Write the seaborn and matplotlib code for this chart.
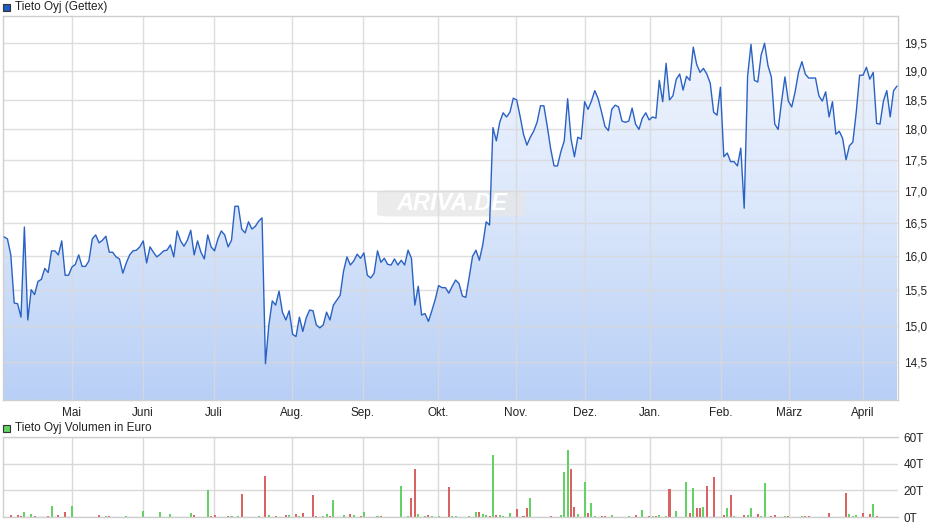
import numpy as np
import seaborn as sns
import matplotlib
matplotlib.use("Agg")
import matplotlib.pyplot as plt
from matplotlib.colors import LinearSegmentedColormap
from matplotlib.ticker import FixedLocator, FuncFormatter, NullLocator
from matplotlib.patches import Rectangle, FancyBboxPatch

# closing prices, one per trading day (EUR)
prices = [
    16.29, 16.26, 16.02, 15.32, 15.31, 15.12, 16.44, 15.08, 15.51, 15.44,
    15.63, 15.66, 15.82, 15.76, 16.08, 16.08, 16.02, 16.23, 15.72, 15.72,
    15.84, 15.88, 16.02, 15.85, 15.85, 15.93, 16.26, 16.32, 16.20, 16.24,
    16.30, 16.06, 16.06, 15.99, 15.96, 15.75, 15.90, 16.02, 16.08, 16.09,
    16.14, 16.23, 15.90, 16.14, 16.06, 15.99, 16.03, 16.08, 16.09, 16.17,
    15.99, 16.38, 16.23, 16.15, 16.24, 16.39, 16.02, 16.23, 16.06, 15.96,
    16.32, 16.14, 16.08, 16.26, 16.38, 16.32, 16.14, 16.24, 16.76, 16.76,
    16.41, 16.35, 16.52, 16.41, 16.45, 16.53, 16.58, 14.48, 15.01, 15.35,
    15.29, 15.49, 15.19, 15.08, 15.21, 14.88, 14.85, 15.12, 14.92, 15.11,
    15.22, 15.21, 15.01, 14.97, 15.01, 15.19, 15.08, 15.29, 15.36, 15.43,
    15.78, 15.99, 15.87, 15.93, 16.03, 15.97, 16.05, 15.72, 15.68, 15.75,
    16.08, 15.91, 15.97, 15.88, 15.87, 15.96, 15.87, 15.94, 15.87, 16.09,
    15.97, 15.29, 15.56, 15.15, 15.17, 15.06, 15.21, 15.37, 15.57, 15.54,
    15.54, 15.46, 15.56, 15.65, 15.60, 15.42, 15.40, 15.69, 16.00, 16.09,
    15.94, 16.17, 16.52, 16.47, 18.03, 17.81, 18.12, 18.28, 18.21, 18.29,
    18.53, 18.50, 18.22, 17.92, 17.74, 17.87, 17.97, 18.12, 18.40, 18.40,
    18.05, 17.68, 17.40, 17.40, 17.63, 17.81, 18.52, 17.84, 17.55, 17.87,
    17.84, 18.47, 18.34, 18.48, 18.66, 18.52, 18.29, 18.05, 17.98, 18.34,
    18.41, 18.38, 18.14, 18.12, 18.14, 18.36, 18.09, 18.00, 18.19, 18.28,
    18.16, 18.21, 18.19, 18.84, 18.47, 19.14, 18.50, 18.57, 18.86, 18.95,
    18.67, 18.91, 18.84, 19.43, 19.12, 18.98, 19.05, 18.95, 18.79, 18.29,
    18.24, 18.72, 17.55, 17.61, 17.47, 17.47, 17.40, 17.69, 16.73, 18.91,
    19.48, 18.84, 18.81, 19.29, 19.50, 19.10, 18.90, 18.09, 18.00, 18.47,
    18.90, 18.48, 18.38, 18.64, 18.98, 19.17, 18.95, 18.88, 18.88, 18.88,
    18.57, 18.48, 18.64, 18.21, 18.47, 17.92, 17.97, 17.85, 17.50, 17.73,
    17.79, 18.29, 18.93, 18.93, 19.07, 18.86, 18.98, 18.10, 18.09, 18.48,
    18.66, 18.21, 18.66, 18.74,
]
days = np.arange(len(prices))

# month starts (trading-day index) and labels
month_pos = [20.0, 40.9, 61.9, 84.8, 105.7, 127.8, 150.8, 171.1, 190.3, 211.2, 231.2, 253.0]
month_labels = ["Mai", "Juni", "Juli", "Aug.", "Sep.", "Okt.", "Nov.", "Dez.",
                "Jan.", "Feb.", "März", "April"]
price_ticks = [14.5, 15.0, 15.5, 16.0, 16.5, 17.0, 17.5, 18.0, 18.5, 19.0, 19.5]

# daily turnover in thousand EUR, u = up day (green), d = down day (red)
vol_day = [2, 4, 5, 6, 8, 9, 13, 14, 16, 18, 20, 28, 30, 31, 36, 41, 46, 49, 55, 56,
           60, 61, 62, 66, 67, 69, 70, 75, 77, 78, 80, 83, 84, 86, 87, 88, 91, 92, 94, 95,
           96, 97, 100, 102, 103, 105, 106, 110, 111, 117, 119, 120, 121, 122, 124, 125, 126, 128, 131, 132,
           133, 137, 139, 140, 141, 142, 143, 144, 145, 146, 147, 149, 151, 153, 154, 155, 161, 164, 165, 166,
           167, 168, 169, 171, 172, 173, 174, 176, 177, 179, 184, 186, 188, 190, 191, 192, 193, 195, 196, 198,
           201, 202, 203, 204, 205, 206, 207, 209, 212, 213, 214, 215, 218, 219, 220, 222, 223, 224, 226, 227,
           230, 231, 235, 236, 237, 243, 248, 249, 250, 251, 253, 255, 256, 257]
vol_k = [1.3, 1.3, 0.5, 3.5, 2.0, 0.5, 0.5, 8.0, 1.3, 3.5, 8.0, 1.3, 0.5, 0.5, 0.5, 4.3, 3.5, 2.0, 2.8, 1.3,
         20.0, 0.5, 1.3, 0.5, 0.5, 0.5, 17.2, 0.5, 31.0, 1.3, 0.5, 1.3, 1.3, 2.0, 0.5, 2.8, 16.5, 0.5, 0.5, 2.0,
         0.5, 12.7, 1.3, 2.0, 1.3, 0.5, 3.5, 0.5, 0.5, 23.3, 0.5, 14.2, 36.2, 2.0, 0.5, 1.3, 0.5, 0.5, 22.5, 0.5,
         0.5, 0.5, 3.5, 3.5, 2.0, 1.3, 0.5, 46.8, 1.3, 1.3, 0.5, 2.8, 5.8, 0.5, 6.6, 14.2, 0.5, 1.3, 34.0, 50.0,
         36.2, 7.3, 2.0, 26.3, 2.8, 10.4, 0.5, 0.5, 0.5, 1.3, 0.5, 1.3, 5.0, 0.5, 0.5, 0.5, 1.3, 0.5, 21.0, 4.3,
         26.3, 2.8, 21.8, 6.6, 6.6, 7.3, 23.3, 30.0, 1.3, 6.6, 16.5, 0.5, 1.3, 1.3, 6.6, 2.0, 0.5, 25.6, 0.5, 1.3,
         0.5, 0.5, 0.5, 0.5, 0.5, 2.8, 18.0, 2.0, 0.5, 1.3, 2.8, 2.0, 9.6, 0.5]
vol_dir = ["d", "d", "d", "u", "u", "d", "d", "u", "d", "d", "u", "d", "u", "d", "u", "u", "u", "u", "u", "d",
           "u", "d", "d", "d", "u", "u", "d", "u", "d", "u", "d", "d", "u", "d", "u", "d", "d", "d", "u", "u",
           "d", "u", "u", "d", "u", "d", "u", "u", "d", "u", "u", "d", "d", "u", "u", "d", "u", "u", "d", "u",
           "u", "u", "u", "d", "u", "u", "d", "u", "d", "u", "u", "u", "d", "d", "d", "u", "d", "u", "u", "u",
           "d", "d", "u", "u", "d", "u", "u", "d", "d", "u", "u", "d", "u", "d", "u", "d", "u", "u", "d", "u",
           "u", "d", "u", "d", "d", "u", "d", "d", "d", "u", "d", "u", "d", "u", "u", "d", "u", "u", "d", "d",
           "u", "d", "u", "d", "d", "d", "d", "u", "u", "u", "d", "d", "u", "d"]

sns.set_style("white")
plt.rcParams["font.family"] = ["Liberation Sans", "DejaVu Sans"]

LINE = "#2a62c4"
GRID = "#d9d9d9"
TXT = "#222222"

fig = plt.figure(figsize=(9.4, 5.26), dpi=100)
ax = fig.add_axes([3 / 940, 1 - 400 / 526, 895 / 940, 384 / 526])
axv = fig.add_axes([3 / 940, 1 - 517 / 526, 895 / 940, 80 / 526])

# ---- price panel ----
ax.set_yscale("log")
fill = ax.fill_between(days, prices, 10, color="none", linewidth=0)
cmap = LinearSegmentedColormap.from_list("ariva", ["#f3f7fe", "#dbe7fb", "#b8cff6"])
grad = np.linspace(0, 1, 256).reshape(-1, 1)
im = ax.imshow(grad, cmap=cmap, extent=[0, 1, 0, 1], transform=ax.transAxes,
               aspect="auto", zorder=0.2, interpolation="bilinear")
im.set_clip_path(fill.get_paths()[0], ax.transData)

sns.lineplot(x=days, y=prices, ax=ax, color=LINE, linewidth=1.0, zorder=3)

ax.set_xlim(-0.3, 263.3)
ax.set_ylim(14.0, 20.0)
ax.yaxis.set_major_locator(FixedLocator(price_ticks))
ax.yaxis.set_minor_locator(NullLocator())
ax.yaxis.set_major_formatter(FuncFormatter(lambda v, _: f"{v:.1f}".replace(".", ",")))
ax.yaxis.tick_right()
ax.set_xticks(month_pos)
ax.set_xticklabels(month_labels)
ax.grid(True, color=GRID, linewidth=1.0, alpha=0.85)
for ln in ax.get_xgridlines() + ax.get_ygridlines():
    ln.set_zorder(1)
ax.tick_params(axis="y", length=0, pad=4, labelsize=8.5, labelcolor=TXT)
ax.tick_params(axis="x", length=2, color=GRID, pad=3, labelsize=8.5, labelcolor=TXT)
ax.set_xlabel("")
ax.set_ylabel("")
for s in ax.spines.values():
    s.set_color("#cfcfcf")
    s.set_linewidth(1.0)

# watermark
wm = FancyBboxPatch((0.418, 0.478), 0.165, 0.068, boxstyle="round,pad=0,rounding_size=0.015",
                    transform=ax.transAxes, facecolor="#e6e6e6", edgecolor="none",
                    alpha=0.8, zorder=0.5, mutation_aspect=0.4)
ax.add_patch(wm)
ax.text(0.502, 0.512, "ARIVA.DE", transform=ax.transAxes, ha="center", va="center",
        fontsize=17, fontweight="bold", fontstyle="italic", color="white", zorder=0.6)

# ---- volume panel ----
vcols = ["#63d163" if d == "u" else "#d96262" for d in vol_dir]
axv.bar(vol_day, vol_k, width=0.6, color=vcols, linewidth=0, zorder=2)
axv.set_xlim(-0.3, 263.3)
axv.set_ylim(0, 60)
axv.set_yticks([0, 20, 40, 60])
axv.set_yticklabels(["0T", "20T", "40T", "60T"])
axv.yaxis.tick_right()
axv.set_xticks(month_pos)
axv.set_xticklabels([])
axv.grid(True, color=GRID, linewidth=1.0, zorder=0)
axv.set_axisbelow(True)
axv.tick_params(axis="y", length=0, pad=4, labelsize=8.5, labelcolor=TXT)
axv.tick_params(axis="x", length=0)
for s in axv.spines.values():
    s.set_color("#cfcfcf")
    s.set_linewidth(1.0)
axv.spines["right"].set_visible(False)

# legend labels
fig.patches.append(Rectangle((3 / 940, 1 - 11 / 526), 7 / 940, 7 / 526, transform=fig.transFigure,
                             facecolor="#1f5cc4", edgecolor="#333333", linewidth=0.8))
fig.text(15 / 940, 1 - 7 / 526, "Tieto Oyj (Gettex)", fontsize=8.5, color=TXT, va="center")
fig.patches.append(Rectangle((3 / 940, 1 - 432 / 526), 7 / 940, 7 / 526, transform=fig.transFigure,
                             facecolor="#63d163", edgecolor="#333333", linewidth=0.8))
fig.text(15 / 940, 1 - 428 / 526, "Tieto Oyj Volumen in Euro", fontsize=8.5, color=TXT, va="center")

fig.savefig("out.png", dpi=100)
